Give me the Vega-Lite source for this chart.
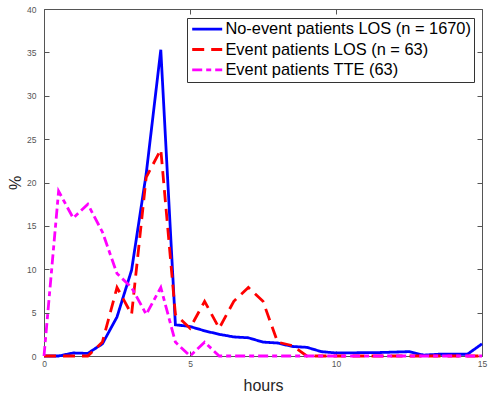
{
  "$schema": "https://vega.github.io/schema/vega-lite/v6.json",
  "width": 438,
  "height": 347,
  "autosize": {"type": "none"},
  "padding": {"left": 44, "top": 9, "right": 7, "bottom": 40},
  "background": "white",
  "config": {
    "view": {"stroke": null},
    "font": "Liberation Sans",
    "axis": {
      "grid": false,
      "domainColor": "#555555",
      "domainWidth": 1,
      "tickColor": "#555555",
      "tickWidth": 1,
      "labelFlush": false,
      "labelFont": "Liberation Sans",
      "labelFontSize": 8.5,
      "labelColor": "#555555",
      "titleFont": "Liberation Sans",
      "titleFontWeight": "normal",
      "titleColor": "#262626"
    }
  },
  "data": {
    "values": [
      {"hours": 0, "pct": 0, "series": "No-event patients LOS (n = 1670)"},
      {"hours": 0.5, "pct": 0, "series": "No-event patients LOS (n = 1670)"},
      {"hours": 1, "pct": 0.35, "series": "No-event patients LOS (n = 1670)"},
      {"hours": 1.5, "pct": 0.3, "series": "No-event patients LOS (n = 1670)"},
      {"hours": 2, "pct": 1.4, "series": "No-event patients LOS (n = 1670)"},
      {"hours": 2.5, "pct": 4.5, "series": "No-event patients LOS (n = 1670)"},
      {"hours": 3, "pct": 9.9, "series": "No-event patients LOS (n = 1670)"},
      {"hours": 3.5, "pct": 21, "series": "No-event patients LOS (n = 1670)"},
      {"hours": 4, "pct": 35.3, "series": "No-event patients LOS (n = 1670)"},
      {"hours": 4.5, "pct": 3.6, "series": "No-event patients LOS (n = 1670)"},
      {"hours": 5, "pct": 3.4, "series": "No-event patients LOS (n = 1670)"},
      {"hours": 5.5, "pct": 2.9, "series": "No-event patients LOS (n = 1670)"},
      {"hours": 6, "pct": 2.5, "series": "No-event patients LOS (n = 1670)"},
      {"hours": 6.5, "pct": 2.2, "series": "No-event patients LOS (n = 1670)"},
      {"hours": 7, "pct": 2.1, "series": "No-event patients LOS (n = 1670)"},
      {"hours": 7.5, "pct": 1.6, "series": "No-event patients LOS (n = 1670)"},
      {"hours": 8, "pct": 1.5, "series": "No-event patients LOS (n = 1670)"},
      {"hours": 8.5, "pct": 1.1, "series": "No-event patients LOS (n = 1670)"},
      {"hours": 9, "pct": 1.0, "series": "No-event patients LOS (n = 1670)"},
      {"hours": 9.5, "pct": 0.5, "series": "No-event patients LOS (n = 1670)"},
      {"hours": 10, "pct": 0.35, "series": "No-event patients LOS (n = 1670)"},
      {"hours": 10.5, "pct": 0.35, "series": "No-event patients LOS (n = 1670)"},
      {"hours": 11, "pct": 0.4, "series": "No-event patients LOS (n = 1670)"},
      {"hours": 11.5, "pct": 0.4, "series": "No-event patients LOS (n = 1670)"},
      {"hours": 12, "pct": 0.45, "series": "No-event patients LOS (n = 1670)"},
      {"hours": 12.5, "pct": 0.5, "series": "No-event patients LOS (n = 1670)"},
      {"hours": 13, "pct": 0.1, "series": "No-event patients LOS (n = 1670)"},
      {"hours": 13.5, "pct": 0.2, "series": "No-event patients LOS (n = 1670)"},
      {"hours": 14, "pct": 0.2, "series": "No-event patients LOS (n = 1670)"},
      {"hours": 14.5, "pct": 0.2, "series": "No-event patients LOS (n = 1670)"},
      {"hours": 15, "pct": 1.4, "series": "No-event patients LOS (n = 1670)"},

      {"hours": 0, "pct": 0, "series": "Event patients LOS (n = 63)"},
      {"hours": 0.5, "pct": 0, "series": "Event patients LOS (n = 63)"},
      {"hours": 1, "pct": 0, "series": "Event patients LOS (n = 63)"},
      {"hours": 1.5, "pct": 0, "series": "Event patients LOS (n = 63)"},
      {"hours": 2, "pct": 1.6, "series": "Event patients LOS (n = 63)"},
      {"hours": 2.5, "pct": 7.9, "series": "Event patients LOS (n = 63)"},
      {"hours": 3, "pct": 4.8, "series": "Event patients LOS (n = 63)"},
      {"hours": 3.5, "pct": 20.6, "series": "Event patients LOS (n = 63)"},
      {"hours": 4, "pct": 23.8, "series": "Event patients LOS (n = 63)"},
      {"hours": 4.5, "pct": 4.8, "series": "Event patients LOS (n = 63)"},
      {"hours": 5, "pct": 3.2, "series": "Event patients LOS (n = 63)"},
      {"hours": 5.5, "pct": 6.3, "series": "Event patients LOS (n = 63)"},
      {"hours": 6, "pct": 3.2, "series": "Event patients LOS (n = 63)"},
      {"hours": 6.5, "pct": 6.3, "series": "Event patients LOS (n = 63)"},
      {"hours": 7, "pct": 7.9, "series": "Event patients LOS (n = 63)"},
      {"hours": 7.5, "pct": 6.3, "series": "Event patients LOS (n = 63)"},
      {"hours": 8, "pct": 1.6, "series": "Event patients LOS (n = 63)"},
      {"hours": 8.5, "pct": 1.2, "series": "Event patients LOS (n = 63)"},
      {"hours": 9, "pct": 0, "series": "Event patients LOS (n = 63)"},
      {"hours": 9.5, "pct": 0, "series": "Event patients LOS (n = 63)"},
      {"hours": 10, "pct": 0, "series": "Event patients LOS (n = 63)"},
      {"hours": 10.5, "pct": 0, "series": "Event patients LOS (n = 63)"},
      {"hours": 11, "pct": 0, "series": "Event patients LOS (n = 63)"},
      {"hours": 11.5, "pct": 0, "series": "Event patients LOS (n = 63)"},
      {"hours": 12, "pct": 0, "series": "Event patients LOS (n = 63)"},
      {"hours": 12.5, "pct": 0, "series": "Event patients LOS (n = 63)"},
      {"hours": 13, "pct": 0, "series": "Event patients LOS (n = 63)"},
      {"hours": 13.5, "pct": 0, "series": "Event patients LOS (n = 63)"},
      {"hours": 14, "pct": 0, "series": "Event patients LOS (n = 63)"},
      {"hours": 14.5, "pct": 0, "series": "Event patients LOS (n = 63)"},
      {"hours": 15, "pct": 0, "series": "Event patients LOS (n = 63)"},

      {"hours": 0, "pct": 0, "series": "Event patients TTE (63)"},
      {"hours": 0.5, "pct": 19.0, "series": "Event patients TTE (63)"},
      {"hours": 1, "pct": 15.9, "series": "Event patients TTE (63)"},
      {"hours": 1.5, "pct": 17.5, "series": "Event patients TTE (63)"},
      {"hours": 2, "pct": 14.3, "series": "Event patients TTE (63)"},
      {"hours": 2.5, "pct": 9.5, "series": "Event patients TTE (63)"},
      {"hours": 3, "pct": 7.9, "series": "Event patients TTE (63)"},
      {"hours": 3.5, "pct": 4.8, "series": "Event patients TTE (63)"},
      {"hours": 4, "pct": 7.9, "series": "Event patients TTE (63)"},
      {"hours": 4.5, "pct": 1.6, "series": "Event patients TTE (63)"},
      {"hours": 5, "pct": 0, "series": "Event patients TTE (63)"},
      {"hours": 5.5, "pct": 1.6, "series": "Event patients TTE (63)"},
      {"hours": 6, "pct": 0, "series": "Event patients TTE (63)"},
      {"hours": 6.5, "pct": 0, "series": "Event patients TTE (63)"},
      {"hours": 7, "pct": 0, "series": "Event patients TTE (63)"},
      {"hours": 7.5, "pct": 0, "series": "Event patients TTE (63)"},
      {"hours": 8, "pct": 0, "series": "Event patients TTE (63)"},
      {"hours": 8.5, "pct": 0, "series": "Event patients TTE (63)"},
      {"hours": 9, "pct": 0, "series": "Event patients TTE (63)"},
      {"hours": 9.5, "pct": 0, "series": "Event patients TTE (63)"},
      {"hours": 10, "pct": 0, "series": "Event patients TTE (63)"},
      {"hours": 10.5, "pct": 0, "series": "Event patients TTE (63)"},
      {"hours": 11, "pct": 0, "series": "Event patients TTE (63)"},
      {"hours": 11.5, "pct": 0, "series": "Event patients TTE (63)"},
      {"hours": 12, "pct": 0, "series": "Event patients TTE (63)"},
      {"hours": 12.5, "pct": 0, "series": "Event patients TTE (63)"},
      {"hours": 13, "pct": 0, "series": "Event patients TTE (63)"},
      {"hours": 13.5, "pct": 0, "series": "Event patients TTE (63)"},
      {"hours": 14, "pct": 0, "series": "Event patients TTE (63)"},
      {"hours": 14.5, "pct": 0, "series": "Event patients TTE (63)"},
      {"hours": 15, "pct": 0, "series": "Event patients TTE (63)"}
    ]
  },
  "resolve": {"axis": {"x": "independent", "y": "independent"}},
  "layer": [
    {
      "transform": [{"filter": {"field": "series", "equal": "No-event patients LOS (n = 1670)"}}],
      "mark": {"type": "line", "strokeWidth": 2.8, "strokeCap": "butt", "strokeJoin": "miter"},
      "encoding": {
        "x": {
          "field": "hours", "type": "quantitative",
          "scale": {"domain": [0, 15], "nice": false},
          "axis": {"orient": "bottom", "title": "hours", "titleFontSize": 16, "values": [0, 5, 10, 15], "tickSize": -5, "labelPadding": 8, "titlePadding": 10}
        },
        "y": {
          "field": "pct", "type": "quantitative",
          "scale": {"domain": [0, 40], "nice": false},
          "axis": {"orient": "left", "title": "%", "titleFontSize": 16, "values": [0, 5, 10, 15, 20, 25, 30, 35, 40], "tickSize": -5, "labelPadding": 13, "titlePadding": 3}
        },
        "color": {
          "field": "series", "type": "nominal",
          "scale": {
            "domain": ["No-event patients LOS (n = 1670)", "Event patients LOS (n = 63)", "Event patients TTE (63)"],
            "range": ["#0000ff", "#ff0000", "#ff00ff"]
          },
          "legend": {
            "title": null,
            "orient": "none",
            "legendX": 143,
            "legendY": 9,
            "direction": "vertical",
            "columns": 1,
            "fillColor": "white",
            "strokeColor": "#333333",
            "padding": 3,
            "symbolType": "M-3,0H3",
            "symbolSize": 100,
            "symbolOffset": 9,
            "symbolStrokeWidth": 2.8,
            "labelFont": "Liberation Sans",
            "labelFontSize": 16.4,
            "labelColor": "#000000",
            "labelOffset": 10,
            "rowPadding": 3.3,
            "labelLimit": 400
          }
        },
        "strokeDash": {
          "field": "series", "type": "nominal",
          "scale": {
            "domain": ["No-event patients LOS (n = 1670)", "Event patients LOS (n = 63)", "Event patients TTE (63)"],
            "range": [[1, 0], [12, 7], [10, 4, 5, 4]]
          },
          "legend": {"title": null}
        }
      }
    },
    {
      "transform": [{"filter": {"field": "series", "equal": "Event patients LOS (n = 63)"}}],
      "mark": {"type": "line", "strokeWidth": 2.8, "strokeCap": "butt", "strokeJoin": "miter"},
      "encoding": {
        "x": {
          "field": "hours", "type": "quantitative",
          "axis": {"orient": "top", "title": null, "labels": false, "values": [0, 5, 10, 15], "tickSize": -5}
        },
        "y": {
          "field": "pct", "type": "quantitative",
          "axis": {"orient": "right", "title": null, "labels": false, "values": [0, 5, 10, 15, 20, 25, 30, 35, 40], "tickSize": -5}
        },
        "color": {"field": "series", "type": "nominal"},
        "strokeDash": {"field": "series", "type": "nominal"}
      }
    },
    {
      "transform": [{"filter": {"field": "series", "equal": "Event patients TTE (63)"}}],
      "mark": {"type": "line", "strokeWidth": 2.8, "strokeCap": "butt", "strokeJoin": "miter"},
      "encoding": {
        "x": {"field": "hours", "type": "quantitative", "axis": null},
        "y": {"field": "pct", "type": "quantitative", "axis": null},
        "color": {"field": "series", "type": "nominal"},
        "strokeDash": {"field": "series", "type": "nominal"}
      }
    }
  ]
}
